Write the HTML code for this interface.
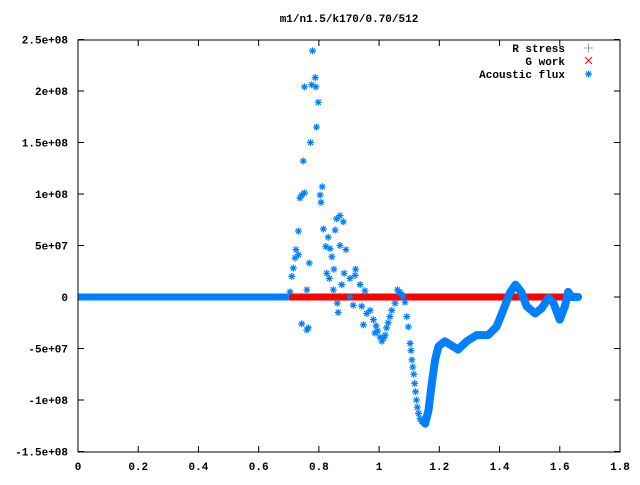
<!DOCTYPE html>
<html><head><meta charset="utf-8"><style>
body{margin:0;background:#fff}
svg text{font-family:"Liberation Mono","DejaVu Sans Mono",monospace;font-size:11px;font-weight:bold;fill:#000}
</style></head><body>
<svg id="chart" width="640" height="480" xmlns="http://www.w3.org/2000/svg">
<rect width="640" height="480" fill="#fff"/>
<text x="349" y="22" text-anchor="middle">m1/n1.5/k170/0.70/512</text>
<g id="axes"></g>
<g id="series"></g>
<rect x="78" y="40" width="542" height="412" fill="none" stroke="#000" stroke-width="1"/>
<g>
<text x="565" y="52" text-anchor="end">R stress</text>
<path d="M584 48h9M588.5 43.5v9" stroke="#a0a0a0" stroke-width="1"/>
<text x="565" y="65" text-anchor="end">G work</text>
<path d="M585 57l7 7M592 57l-7 7" stroke="#f00" stroke-width="1"/>
<text x="565" y="78" text-anchor="end">Acoustic flux</text>
<g id="legmark"></g>
</g>
</svg>
<script>
const xTicks=[0,0.2,0.4,0.6,0.8,1,1.2,1.4,1.6,1.8];
const xTickLabels=["0","0.2","0.4","0.6","0.8","1","1.2","1.4","1.6","1.8"];
const yTicks=[250,200,150,100,50,0,-50,-100,-150];
const yTickLabels=["2.5e+08","2e+08","1.5e+08","1e+08","5e+07","0","-5e+07","-1e+08","-1.5e+08"];
const gworkRange=[0.70,1.65];
const fluxFlatRange=[0,0.70];
const scatterX=[0.779,0.788,0.752,0.776,0.790,0.798,0.792,0.772,0.748,0.743,0.752,0.737,0.811,0.804,0.807,0.870,0.859,0.881,0.732,0.815,0.854,0.831,0.724,0.732,0.721,0.823,0.837,0.843,0.870,0.890,0.768,0.715,0.710,0.704,0.760,0.826,0.835,0.850,0.884,0.922,0.920,0.903,0.876,0.848,0.937,0.953,0.903,0.861,0.864,0.743,0.765,0.760,0.914,0.942,0.970,0.959,0.981,0.948,0.986,1.003,1.020,1.009,1.036,1.042,1.053,1.061,1.075,1.086,1.092,1.097,1.103,1.106,1.109,1.112,1.115,1.118,1.121,1.124,1.127,1.131,1.136,1.142,1.066,1.070,1.080,1.025,1.030,1.015,0.995,0.990];
const scatterY=[239,213,204,206,204,189,165,150,132,99,101,96,107,99,92,79,76,73,64,66,65,58,46,41,38,49,47,39,50,46,33,28,20,5,7,23,18,27,23,27,21,18,12,7,12,6,0,-6,-15,-26,-30,-32,-8,-9,-13,-16,-22,-27,-35,-39,-37,-43,-19,-13,-6,7,2,-5,-19,-29,-45,-52,-61,-68,-75,-84,-92,-100,-107,-113,-118,-121,5,4,0,-30,-25,-40,-33,-28];
const curveX=[1.148,1.153,1.164,1.175,1.186,1.197,1.218,1.240,1.262,1.291,1.324,1.362,1.390,1.412,1.434,1.453,1.472,1.490,1.518,1.540,1.562,1.578,1.600,1.617,1.628,1.639,1.661];
const curveY=[-121,-123,-110,-84,-61,-48,-43,-47,-51,-43,-37,-37,-29,-13,4,12,5,-9,-16,-11,-1,-5,-22,-9,5,0,0];
const X=v=>78+v*301.1, Y=v=>297-v*1.03;
const NS="http://www.w3.org/2000/svg";
function mk(tag,attrs,parent){const e=document.createElementNS(NS,tag);for(const k in attrs)e.setAttribute(k,attrs[k]);parent.appendChild(e);return e;}
const axes=document.getElementById('axes'), ser=document.getElementById('series');
xTicks.forEach((t,i)=>{
 const l=mk('path',{d:`M${X(t)} 452v-6M${X(t)} 40v6`,stroke:'#000'},axes);
 
 
 const tx=mk('text',{x:X(t),y:470,'text-anchor':'middle'},axes);tx.textContent=xTickLabels[i];
 
 
});
yTicks.forEach((t,i)=>{
 const l=mk('path',{d:`M78 ${Y(t)}h6M620 ${Y(t)}h-6`,stroke:'#000'},axes);
 
 
 const tx=mk('text',{x:68,y:Y(t)+4,'text-anchor':'end'},axes);tx.textContent=yTickLabels[i];
 
 
});
const g=mk('line',{x1:X(gworkRange[0]),x2:X(gworkRange[1]),y1:Y(0),y2:Y(0),stroke:'#f00','stroke-width':7},ser);


const f=mk('line',{x1:X(fluxFlatRange[0]),x2:X(fluxFlatRange[1]),y1:Y(0),y2:Y(0),stroke:'#0080ff','stroke-width':7},ser);


const star=(x,y,p,name)=>{const s=mk('path',{d:`M${x-3.5} ${y}h7M${x} ${y-3.5}v7M${x-2.5} ${y-2.5}l5 5M${x+2.5} ${y-2.5}l-5 5`,stroke:'#0080ff','stroke-width':1.2},p);
 
 };
const cl=mk('polyline',{points:curveX.map((x,i)=>X(x)+','+Y(curveY[i])).join(' '),fill:'none',stroke:'#0080ff','stroke-width':8,'stroke-linejoin':'round','stroke-linecap':'round'},ser);


scatterX.forEach((x,i)=>star(X(x),Y(scatterY[i]),ser,'acoustic-flux-point'));
curveX.forEach((x,i)=>star(X(x),Y(curveY[i]),ser,'acoustic-flux-point'));
star(588.5,74,document.getElementById('legmark'),'legend-star');
</script>
</body></html>
